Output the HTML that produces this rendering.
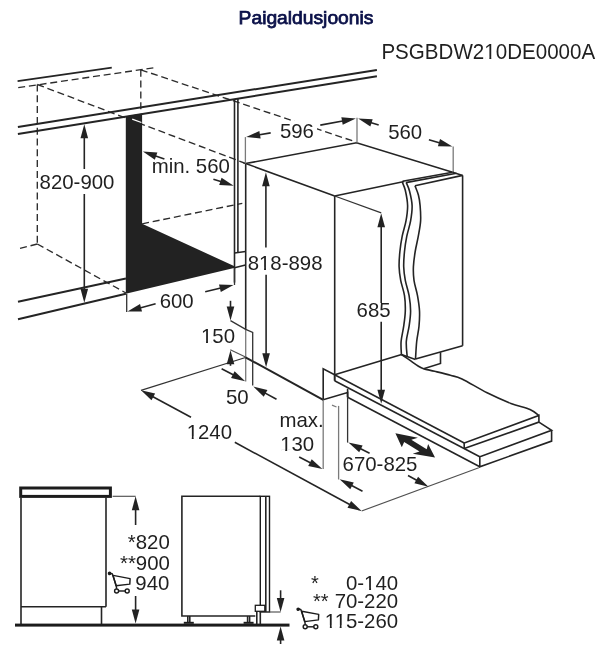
<!DOCTYPE html>
<html><head><meta charset="utf-8"><style>
html,body{margin:0;padding:0;background:#fff;}
svg{display:block;will-change:transform;}
text{font-family:"Liberation Sans",sans-serif;fill:#1f1f1f;}
.m{stroke:#242424;stroke-width:1.6;fill:none;}
.w{stroke:#242424;stroke-width:2;fill:none;}
.t{stroke:#505050;stroke-width:1.15;fill:none;}
.k{stroke:#333;stroke-width:1.3;fill:none;}
.g{stroke:#7a7a7a;stroke-width:1.3;fill:none;}
.d{stroke:#2c2c2c;stroke-width:1.35;fill:none;stroke-dasharray:7 3.8;}
.ws{stroke:#fff;stroke-width:1.3;fill:none;}
</style></head><body>
<svg width="606" height="654" viewBox="0 0 606 654">
<line class="m" x1="17.6" y1="81.1" x2="111.8" y2="67.6"/>
<line class="d" x1="18.2" y1="87.7" x2="157" y2="67.3"/>
<line class="d" x1="37.3" y1="84.5" x2="37.3" y2="244"/>
<line class="d" x1="37.3" y1="84.5" x2="245.7" y2="163.5"/>
<line class="d" x1="140.8" y1="69.8" x2="140.8" y2="112"/>
<line class="d" x1="140.8" y1="69.8" x2="356" y2="142"/>
<line class="d" x1="37.3" y1="244" x2="18.2" y2="248.9"/>
<line class="d" x1="37.3" y1="244" x2="126" y2="293"/>
<line class="w" x1="17.9" y1="126.9" x2="376.9" y2="69.9"/>
<line class="w" x1="17.9" y1="134" x2="376.9" y2="76.2"/>
<polygon points="125.8,116.2 142.1,113.6 142.1,223.8 234,266 234,268 125.8,293.7" fill="#222"/>
<line class="ws" x1="132.2" y1="119.1" x2="141.4" y2="122.5"/>
<line class="d" x1="142.1" y1="223.8" x2="242.3" y2="203.3"/>
<line class="w" x1="18" y1="301.7" x2="125.9" y2="278.4"/>
<line class="w" x1="18" y1="319.3" x2="125.9" y2="293.7"/>
<line class="m" x1="234.5" y1="99.5" x2="234.5" y2="282.6"/>
<line class="m" x1="237.9" y1="98.8" x2="237.9" y2="253"/>
<line class="m" x1="234.5" y1="253" x2="245.5" y2="251.5"/>
<line class="m" x1="234.5" y1="267.7" x2="245.5" y2="265"/>
<polygon points="84.3,124.3 88.1,138.3 80.5,138.3" fill="#222"/>
<line class="m" x1="84.3" y1="169" x2="84.3" y2="136.3"/>
<polygon points="84.3,302.8 80.5,288.8 88.1,288.8" fill="#222"/>
<line class="m" x1="84.3" y1="194" x2="84.3" y2="290.8"/>
<text transform="translate(39.6,189.3) scale(1,1.03)" x="0" y="0" font-size="20.4" text-anchor="start" >820-900</text>
<polygon points="142.9,151.4 157.37,152.48 154.83,159.65" fill="#222"/>
<line class="m" x1="164.4" y1="159" x2="154.21" y2="155.4"/>
<polygon points="233.7,185.8 219.21,185.09 221.56,177.86" fill="#222"/>
<line class="m" x1="213.4" y1="179.2" x2="222.29" y2="182.09"/>
<text transform="translate(151.7,173.2) scale(1,1.03)" x="0" y="0" font-size="20.4" text-anchor="start" >min. 560</text>
<line class="k" x1="126.7" y1="293.7" x2="126.7" y2="312"/>
<line class="k" x1="234.5" y1="268" x2="234.5" y2="285"/>
<polygon points="127.5,311.4 140.02,304.08 142.01,311.41" fill="#222"/>
<line class="m" x1="155.6" y1="303.8" x2="139.08" y2="308.27"/>
<polygon points="233.5,284.9 220.8,291.91 219.0,284.52" fill="#222"/>
<line class="m" x1="205.2" y1="291.8" x2="221.84" y2="287.74"/>
<text transform="translate(159.7,307.8) scale(1,1.03)" x="0" y="0" font-size="20.4" text-anchor="start" >600</text>
<polyline class="m" points="334.7,196 245.7,163.5 356.6,142.7 452.6,172.2"/>
<line class="m" x1="245.7" y1="163.5" x2="245.7" y2="329.5"/>
<line class="g" x1="245.7" y1="329.5" x2="245.7" y2="381.5"/>
<line class="m" x1="334.7" y1="196" x2="334.7" y2="380.7"/>
<line class="m" x1="334.7" y1="196" x2="404.2" y2="181.5"/>
<line class="g" x1="245.4" y1="137.1" x2="245.4" y2="163.5"/>
<line class="g" x1="357" y1="117.8" x2="357" y2="142.7"/>
<polygon points="246.2,137.1 259.36,130.99 260.64,138.48" fill="#222"/>
<line class="m" x1="270.7" y1="132.9" x2="258.03" y2="135.07"/>
<polygon points="355.8,118.5 342.73,124.79 341.34,117.32" fill="#222"/>
<line class="m" x1="320.3" y1="125.1" x2="344.0" y2="120.69"/>
<rect x="276" y="121" width="41" height="20" fill="#fff"/>
<text transform="translate(279.9,138.3) scale(1,1.03)" x="0" y="0" font-size="20.4" text-anchor="start" >596</text>
<polygon points="358.2,118.5 372.69,119.17 370.36,126.41" fill="#222"/>
<line class="m" x1="378.7" y1="125.1" x2="369.62" y2="122.18"/>
<line class="g" x1="453.2" y1="146.6" x2="453.2" y2="172.2"/>
<polygon points="452.4,146.6 437.9,146.3 440.04,139.01" fill="#222"/>
<line class="m" x1="428.9" y1="139.7" x2="440.89" y2="143.22"/>
<text transform="translate(388.2,138.6) scale(1,1.03)" x="0" y="0" font-size="20.4" text-anchor="start" >560</text>
<line class="m" x1="402.5" y1="181.2" x2="452.6" y2="172.2"/>
<line class="m" x1="405.8" y1="182.6" x2="456.5" y2="173.3"/>
<line class="m" x1="415" y1="185.8" x2="462.6" y2="175.4"/>
<line class="m" x1="452.6" y1="172.2" x2="462.6" y2="175.4"/>
<line class="m" x1="462.6" y1="175.4" x2="462.6" y2="345.8"/>
<path class="m" d="M402.2,181.9 C402.72,183.30 404.40,186.35 405.3,190.3 C406.20,194.25 407.48,200.50 407.6,205.6 C407.72,210.70 406.90,215.80 406,220.9 C405.10,226.00 403.22,231.10 402.2,236.2 C401.18,241.30 400.42,246.40 399.9,251.5 C399.38,256.60 398.97,262.00 399.1,266.8 C399.23,271.60 399.80,275.50 400.7,280.3 C401.60,285.10 403.73,290.50 404.5,295.6 C405.27,300.70 405.43,305.80 405.3,310.9 C405.17,316.00 404.40,321.10 403.7,326.2 C403.00,331.30 401.48,336.78 401.1,341.5 C400.72,346.22 401.35,352.33 401.4,354.5"/>
<path class="m" d="M406.3,182.7 C406.83,184.08 408.53,187.18 409.5,191 C410.47,194.82 411.92,200.62 412.1,205.6 C412.28,210.58 411.48,215.80 410.6,220.9 C409.72,226.00 407.82,231.10 406.8,236.2 C405.78,241.30 405.02,246.40 404.5,251.5 C403.98,256.60 403.57,262.00 403.7,266.8 C403.83,271.60 404.40,275.50 405.3,280.3 C406.20,285.10 408.22,290.50 409.1,295.6 C409.98,300.70 410.60,305.80 410.6,310.9 C410.60,316.00 409.82,321.10 409.1,326.2 C408.38,331.30 406.62,336.40 406.3,341.5 C405.98,346.60 407.05,354.25 407.2,356.8"/>
<path class="m" d="M415,185.8 C415.57,187.33 417.55,191.70 418.4,195 C419.25,198.30 419.73,201.28 420.1,205.6 C420.47,209.92 420.90,215.80 420.6,220.9 C420.30,226.00 419.20,231.10 418.3,236.2 C417.40,241.30 416.02,246.40 415.2,251.5 C414.38,256.60 413.60,262.00 413.4,266.8 C413.20,271.60 413.32,275.50 414,280.3 C414.68,285.10 416.58,290.50 417.5,295.6 C418.42,300.70 419.25,305.80 419.5,310.9 C419.75,316.00 419.47,321.10 419,326.2 C418.53,331.30 417.28,336.02 416.7,341.5 C416.12,346.98 415.70,356.17 415.5,359.1"/>
<line class="k" x1="334.7" y1="196" x2="381.2" y2="212.8"/>
<polygon points="381.2,213.2 385.0,227.2 377.4,227.2" fill="#222"/>
<line class="m" x1="381.2" y1="303" x2="381.2" y2="225.2"/>
<polygon points="381.2,403.8 377.4,389.8 385.0,389.8" fill="#222"/>
<line class="m" x1="381.2" y1="321.8" x2="381.2" y2="391.8"/>
<text transform="translate(356.6,317.1) scale(1,1.03)" x="0" y="0" font-size="20.4" text-anchor="start" >685</text>
<polygon points="265.9,172.2 269.7,186.2 262.1,186.2" fill="#222"/>
<line class="m" x1="265.9" y1="247.4" x2="265.9" y2="184.2"/>
<polygon points="266.1,367.3 262.3,353.3 269.9,353.3" fill="#222"/>
<line class="m" x1="266.1" y1="274.7" x2="266.1" y2="355.3"/>
<text transform="translate(247.7,269.5) scale(1,1.03)" x="0" y="0" font-size="20.4" text-anchor="start" >818-898</text>
<line class="m" x1="334.6" y1="374.8" x2="401.6" y2="354.4"/>
<line class="m" x1="334.6" y1="374.8" x2="334.6" y2="380.7"/>
<line class="m" x1="334.6" y1="374.8" x2="464.2" y2="443"/>
<line class="m" x1="334.6" y1="380.7" x2="479.8" y2="456.7"/>
<line class="m" x1="347.6" y1="397.2" x2="479.8" y2="466.8"/>
<polyline class="m" points="464.2,448.6 464.2,443 538.9,415.5 538.9,422.1 464.2,448.6"/>
<polyline class="m" points="538.9,422.1 551.6,430.3 479.8,456.7 479.8,466.8 551.6,441.1 551.6,430.3"/>
<path class="m" d="M401.4,354.5 C402.97,355.57 408.02,358.98 410.8,360.9 C413.58,362.82 415.97,364.70 418.1,366 C420.23,367.30 420.85,367.82 423.6,368.7 C426.35,369.58 430.13,370.20 434.6,371.3 C439.07,372.40 445.83,374.02 450.4,375.3 C454.97,376.58 455.88,376.08 462,379 C468.12,381.92 478.95,388.73 487.1,392.8 C495.25,396.87 503.75,400.62 510.9,403.4 C518.05,406.18 525.33,407.48 530,409.5 C534.67,411.52 537.42,414.50 538.9,415.5"/>
<line class="m" x1="415.5" y1="359.1" x2="462.6" y2="345.8"/>
<polyline class="m" points="440.5,352.2 440.5,363.5 423.6,368.7"/>
<line class="m" x1="401.4" y1="354.5" x2="415.5" y2="359.6"/>
<polyline class="m" points="334.6,374.8 323.2,368.9 323.2,399.8 347.6,392.6 347.6,397.2"/>
<line class="m" x1="347.6" y1="388.7" x2="347.6" y2="397.2"/>
<line class="w" x1="245.5" y1="357.3" x2="323.2" y2="399.8"/>
<line class="t" x1="230.3" y1="349.8" x2="245.5" y2="357.1"/>
<line class="k" x1="141" y1="390.3" x2="245.5" y2="357.5"/>
<polygon points="141,390.3 155.12,393.61 151.51,400.3" fill="#222"/>
<line class="m" x1="191" y1="417.3" x2="151.56" y2="396.0"/>
<polygon points="361.6,511 347.48,507.67 351.1,500.99" fill="#222"/>
<line class="m" x1="234.8" y1="442.3" x2="351.05" y2="505.28"/>
<line class="t" x1="361.6" y1="511" x2="478.8" y2="467.8"/>
<text transform="translate(186.7,438.7) scale(1,1.03)" x="0" y="0" font-size="20.4" text-anchor="start" >1240</text>
<polyline class="k" points="230.5,320.6 245.7,329.3 252.7,332.4 252.7,385.4"/>
<polygon points="230.5,320.6 226.7,306.6 234.3,306.6" fill="#222"/>
<line class="m" x1="230.5" y1="300.8" x2="230.5" y2="308.6"/>
<polygon points="230.5,350.3 234.3,364.3 226.7,364.3" fill="#222"/>
<line class="m" x1="230.5" y1="365.8" x2="230.5" y2="362.3"/>
<polygon points="245.2,381.2 231.05,378.01 234.61,371.29" fill="#222"/>
<line class="m" x1="221.6" y1="368.7" x2="234.6" y2="375.58"/>
<polygon points="253.3,386.6 267.41,389.99 263.76,396.66" fill="#222"/>
<line class="m" x1="276.5" y1="399.3" x2="263.83" y2="392.36"/>
<text transform="translate(201,343.3) scale(1,1.03)" x="0" y="0" font-size="20.4" text-anchor="start" >150</text>
<text transform="translate(226,404.3) scale(1,1.03)" x="0" y="0" font-size="20.4" text-anchor="start" >50</text>
<line class="g" x1="323.2" y1="399.8" x2="323.2" y2="469"/>
<line class="g" x1="338.6" y1="405.9" x2="338.6" y2="479.5"/>
<line class="g" x1="332" y1="405.2" x2="336.5" y2="407"/>
<polygon points="322.4,468.9 308.21,465.89 311.68,459.13" fill="#222"/>
<line class="m" x1="299.2" y1="457" x2="311.72" y2="463.42"/>
<polygon points="339.6,479.3 353.78,482.38 350.27,489.13" fill="#222"/>
<line class="m" x1="362.5" y1="491.2" x2="350.25" y2="484.83"/>
<text transform="translate(279.4,427.1) scale(1,1.03)" x="0" y="0" font-size="20.4" text-anchor="start" >max.</text>
<text transform="translate(280.2,451.4) scale(1,1.03)" x="0" y="0" font-size="20.4" text-anchor="start" >130</text>
<line class="k" x1="347.6" y1="397.2" x2="347.6" y2="442.6"/>
<polygon points="348.4,442.6 362.62,445.46 359.22,452.26" fill="#222"/>
<line class="m" x1="369.6" y1="453.2" x2="359.13" y2="447.97"/>
<polygon points="428.5,486.8 414.4,483.37 418.07,476.71" fill="#222"/>
<line class="m" x1="408" y1="475.5" x2="417.99" y2="481.01"/>
<text transform="translate(342.6,470.8) scale(1,1.03)" x="0" y="0" font-size="20.4" text-anchor="start" >670-825</text>
<polygon points="395.4,433.3 417.9,437.73 411.35,439.81 426.68,449.22 428.13,444.0 435.02,457.62 412.73,453.79 419.5,451.38 404.16,441.96 401.81,447.32" fill="#222"/>
<rect x="20.7" y="488" width="89.7" height="8.4" fill="none" stroke="#1c1c1c" stroke-width="3"/>
<polyline class="m" points="21,497.5 21,624"/>
<polyline class="m" points="106,497.5 106,606.8"/>
<line class="m" x1="21" y1="606.8" x2="106" y2="606.8"/>
<line class="m" x1="101.5" y1="606.8" x2="101.5" y2="624"/>
<line class="t" x1="112.6" y1="496.3" x2="135.6" y2="496.3"/>
<polygon points="135.6,496.3 139.4,510.3 131.8,510.3" fill="#222"/>
<line class="m" x1="135.6" y1="525" x2="135.6" y2="508.3"/>
<polygon points="135.6,623.5 131.8,609.5 139.4,609.5" fill="#222"/>
<line class="m" x1="135.6" y1="596" x2="135.6" y2="611.5"/>
<rect x="15" y="623.6" width="274.5" height="3" fill="#1c1c1c"/>
<text transform="translate(127.8,549.0) scale(1,1.03)" x="0" y="0" font-size="20.4" text-anchor="start" >*820</text>
<text transform="translate(120,569.7) scale(1,1.03)" x="0" y="0" font-size="20.4" text-anchor="start" >**900</text>
<text transform="translate(135.3,590.4) scale(1,1.03)" x="0" y="0" font-size="20.4" text-anchor="start" >940</text>
<g transform="translate(109.3,573.1)" fill="none" stroke="#1c1c1c" stroke-width="1.45" stroke-linejoin="round"><circle cx="0.3" cy="0.3" r="1.1" fill="#1c1c1c"/><polyline points="0,0 2.9,0.6 7,12.7 7.3,15.8"/><polygon points="3.8,2.3 20.8,5.5 20.5,11 6.7,12.7"/><circle cx="7.3" cy="17.9" r="2"/><circle cx="17.9" cy="17.9" r="2"/><line x1="9.3" y1="17.9" x2="15.9" y2="17.9"/></g>
<g transform="translate(297.9,608.9)" fill="none" stroke="#1c1c1c" stroke-width="1.45" stroke-linejoin="round"><circle cx="0.3" cy="0.3" r="1.1" fill="#1c1c1c"/><polyline points="0,0 2.9,0.6 7,12.7 7.3,15.8"/><polygon points="3.8,2.3 20.8,5.5 20.5,11 6.7,12.7"/><circle cx="7.3" cy="17.9" r="2"/><circle cx="17.9" cy="17.9" r="2"/><line x1="9.3" y1="17.9" x2="15.9" y2="17.9"/></g>
<polyline class="m" points="260.3,496.3 181.9,496.3 181.9,616 255.3,616"/>
<rect x="260.3" y="496.3" width="9.2" height="115.7" fill="none" stroke="#1c1c1c" stroke-width="1.4"/>
<line class="m" x1="265.8" y1="496.3" x2="265.8" y2="612"/>
<rect x="255.3" y="605.3" width="9.5" height="6" fill="#fff" stroke="#1c1c1c" stroke-width="1.3"/>
<line class="m" x1="256.8" y1="611.3" x2="256.8" y2="624"/>
<line class="m" x1="260.3" y1="611.3" x2="260.3" y2="624"/>
<line class="m" x1="187.8" y1="616" x2="187.8" y2="622.5"/>
<line class="m" x1="189.8" y1="616" x2="189.8" y2="622.5"/>
<rect x="183.8" y="621.8" width="10" height="2" fill="#1c1c1c"/>
<line class="m" x1="247.6" y1="616" x2="247.6" y2="622.5"/>
<line class="m" x1="249.6" y1="616" x2="249.6" y2="622.5"/>
<rect x="243.6" y="621.8" width="10" height="2" fill="#1c1c1c"/>
<line class="t" x1="269.5" y1="612" x2="280.6" y2="612"/>
<polygon points="280.6,612 276.8,598.0 284.4,598.0" fill="#222"/>
<line class="m" x1="280.6" y1="590.3" x2="280.6" y2="600.0"/>
<polygon points="280.6,626.6 284.4,640.6 276.8,640.6" fill="#222"/>
<line class="m" x1="280.6" y1="644" x2="280.6" y2="638.6"/>
<text x="311" y="589.5" font-size="20">*</text>
<text transform="translate(398.1,589.8) scale(1,1.03)" x="0" y="0" font-size="20.4" text-anchor="end" >0-140</text>
<text x="313" y="607.7" font-size="20">**</text>
<text transform="translate(398.1,608.0) scale(1,1.03)" x="0" y="0" font-size="20.4" text-anchor="end" >70-220</text>
<text transform="translate(398.1,627.6) scale(1,1.03)" x="0" y="0" font-size="20.4" text-anchor="end" >115-260</text>
<text x="238.6" y="23.9" font-size="17.9" style="fill:#0a1048;stroke:#0a1048;stroke-width:0.75" textLength="134.8" lengthAdjust="spacingAndGlyphs">Paigaldusjoonis</text>
<text transform="translate(381.4,59.2) scale(1,1.03)" x="0" y="0" font-size="20.9" text-anchor="start" textLength="213.8" lengthAdjust="spacingAndGlyphs">PSGBDW210DE0000A</text>
<rect x="260.05" y="267.23" width="4.02" height="2.90" fill="#fff"/>
<rect x="265.99" y="267.23" width="3.86" height="2.90" fill="#fff"/>
<rect x="187.72" y="436.43" width="4.02" height="2.90" fill="#fff"/>
<rect x="193.66" y="436.43" width="3.86" height="2.90" fill="#fff"/>
<rect x="202.02" y="341.03" width="4.02" height="2.90" fill="#fff"/>
<rect x="207.96" y="341.03" width="3.86" height="2.90" fill="#fff"/>
<rect x="281.22" y="449.13" width="4.02" height="2.90" fill="#fff"/>
<rect x="287.16" y="449.13" width="3.86" height="2.90" fill="#fff"/>
<rect x="365.10" y="587.53" width="4.02" height="2.90" fill="#fff"/>
<rect x="371.04" y="587.53" width="3.86" height="2.90" fill="#fff"/>
<rect x="325.84" y="625.33" width="4.02" height="2.90" fill="#fff"/>
<rect x="331.77" y="625.33" width="3.86" height="2.90" fill="#fff"/>
<rect x="335.66" y="625.33" width="4.02" height="2.90" fill="#fff"/>
<rect x="341.59" y="625.33" width="3.86" height="2.90" fill="#fff"/>
<rect x="485.29" y="56.88" width="4.06" height="2.97" fill="#fff"/>
<rect x="491.29" y="56.88" width="3.90" height="2.97" fill="#fff"/>
</svg>
</body></html>
